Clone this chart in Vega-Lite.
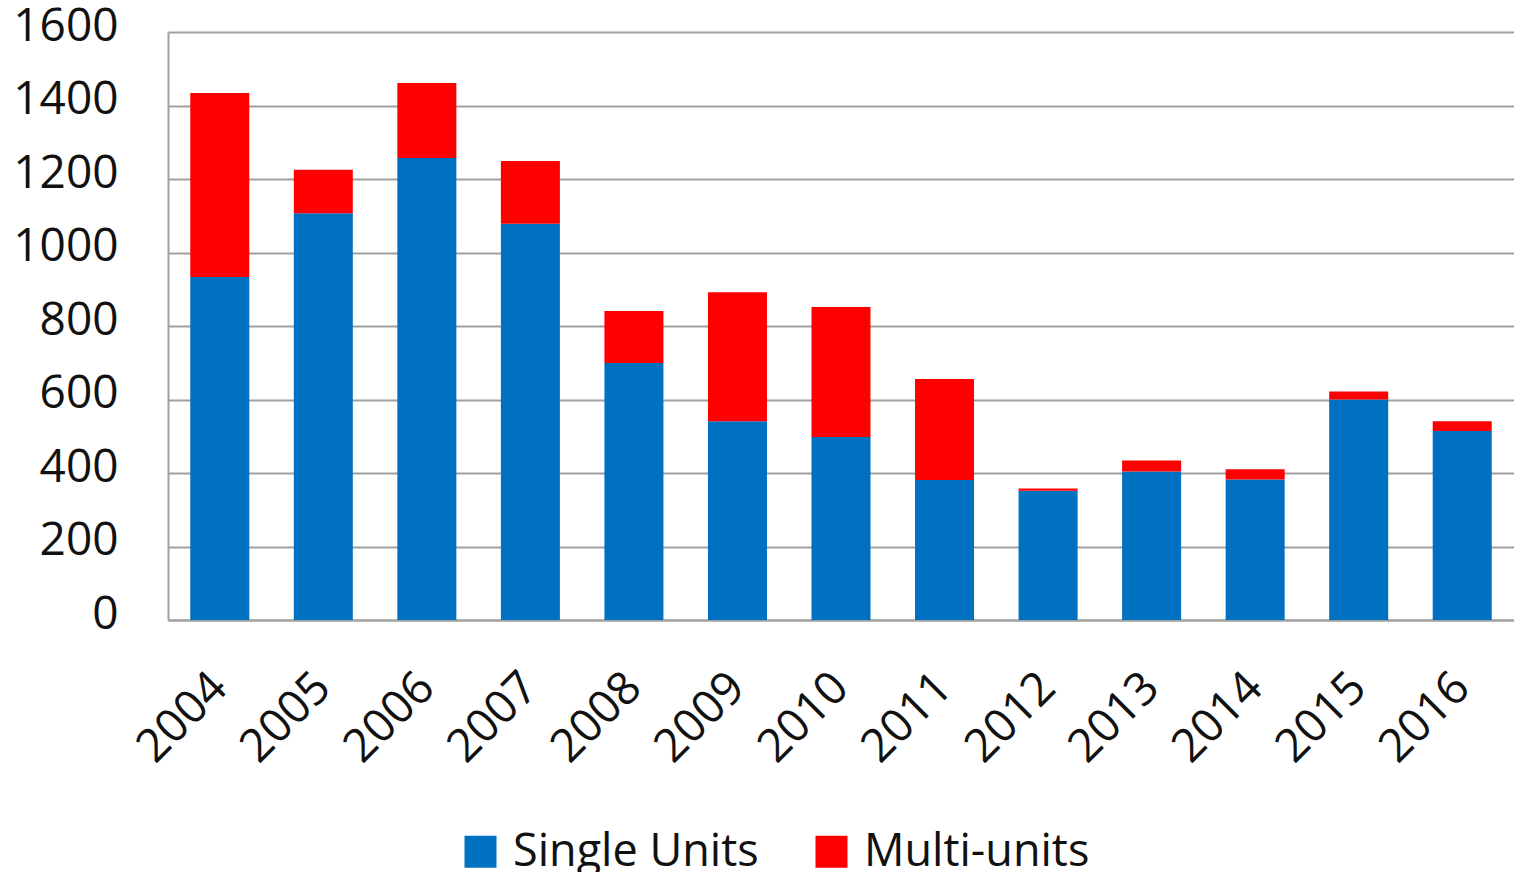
{
  "$schema": "https://vega.github.io/schema/vega-lite/v6.json",
  "width": 1346,
  "height": 588,
  "autosize": {"type": "none"},
  "padding": {"left": 168, "top": 32, "right": 0, "bottom": 252},
  "background": "white",
  "config": {
    "view": {"stroke": null},
    "font": "Open Sans",
    "axis": {"labelFont": "Open Sans", "labelColor": "#111111"}
  },
  "data": {
    "values": [
      {"year": "2004", "type": "Single Units", "value": 933},
      {"year": "2004", "type": "Multi-units", "value": 501},
      {"year": "2005", "type": "Single Units", "value": 1107},
      {"year": "2005", "type": "Multi-units", "value": 118},
      {"year": "2006", "type": "Single Units", "value": 1257},
      {"year": "2006", "type": "Multi-units", "value": 204},
      {"year": "2007", "type": "Single Units", "value": 1078},
      {"year": "2007", "type": "Multi-units", "value": 171},
      {"year": "2008", "type": "Single Units", "value": 699},
      {"year": "2008", "type": "Multi-units", "value": 142},
      {"year": "2009", "type": "Single Units", "value": 541},
      {"year": "2009", "type": "Multi-units", "value": 351},
      {"year": "2010", "type": "Single Units", "value": 498},
      {"year": "2010", "type": "Multi-units", "value": 354},
      {"year": "2011", "type": "Single Units", "value": 381},
      {"year": "2011", "type": "Multi-units", "value": 275},
      {"year": "2012", "type": "Single Units", "value": 352},
      {"year": "2012", "type": "Multi-units", "value": 6},
      {"year": "2013", "type": "Single Units", "value": 404},
      {"year": "2013", "type": "Multi-units", "value": 30},
      {"year": "2014", "type": "Single Units", "value": 382},
      {"year": "2014", "type": "Multi-units", "value": 28},
      {"year": "2015", "type": "Single Units", "value": 600},
      {"year": "2015", "type": "Multi-units", "value": 22},
      {"year": "2016", "type": "Single Units", "value": 514},
      {"year": "2016", "type": "Multi-units", "value": 27}
    ]
  },
  "mark": {"type": "bar"},
  "encoding": {
    "x": {
      "field": "year",
      "type": "ordinal",
      "scale": {"paddingInner": 0.43, "paddingOuter": 0.215},
      "axis": {
        "title": null,
        "labelAngle": -45,
        "labelAlign": "right",
        "labelBaseline": "middle",
        "labelFontSize": 46,
        "labelPadding": 60,
        "ticks": false,
        "domainColor": "#a0a0a0",
        "domainWidth": 2
      }
    },
    "y": {
      "field": "value",
      "type": "quantitative",
      "aggregate": "sum",
      "stack": "zero",
      "scale": {"domain": [0, 1600], "nice": false},
      "axis": {
        "title": null,
        "format": "d",
        "values": [0, 200, 400, 600, 800, 1000, 1200, 1400, 1600],
        "labelFontSize": 46,
        "labelPadding": 50,
        "labelOffset": -6,
        "ticks": false,
        "gridColor": "#a0a0a0",
        "gridWidth": 2,
        "gridOpacity": 1,
        "domainColor": "#a0a0a0",
        "domainWidth": 2
      }
    },
    "color": {
      "field": "type",
      "type": "nominal",
      "scale": {"domain": ["Single Units", "Multi-units"], "range": ["#0070C0", "#FF0000"]},
      "legend": {
        "title": null,
        "orient": "none",
        "direction": "horizontal",
        "legendX": 290,
        "legendY": 797,
        "symbolType": "square",
        "symbolSize": 1024,
        "symbolStrokeWidth": 0,
        "symbolOpacity": 1,
        "labelFontSize": 45,
        "labelFont": "Open Sans",
        "labelColor": "#111111",
        "labelLimit": 0,
        "columnPadding": 50,
        "labelOffset": 10
      }
    },
    "order": {"field": "type", "sort": "descending"}
  }
}
